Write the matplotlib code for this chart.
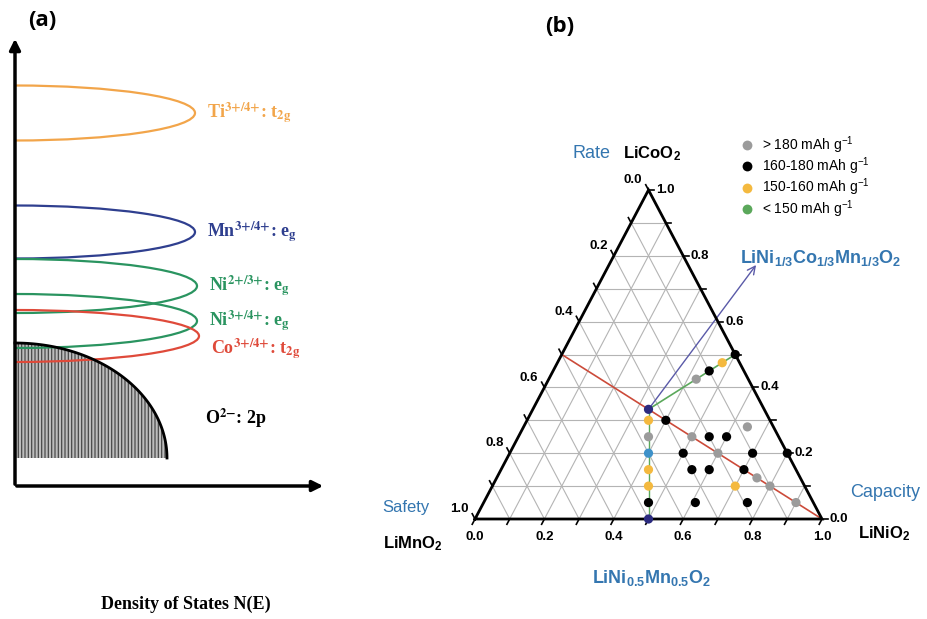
import numpy as np
import matplotlib.pyplot as plt
from matplotlib.patches import Arc, Polygon

plt.rcParams['mathtext.fontset'] = 'custom'
plt.rcParams['mathtext.rm'] = 'Liberation Sans'
plt.rcParams['mathtext.bf'] = 'Liberation Sans:bold'
plt.rcParams['mathtext.it'] = 'Liberation Sans:italic'
plt.rcParams['mathtext.sf'] = 'Liberation Sans'
plt.rcParams['hatch.linewidth'] = 0.9

# ---- panel (a): redox levels vs O 2p band ----
level_ion = ['Ti', 'Mn', 'Ni', 'Ni', 'Co']
level_couple = ['3{+}/4{+}', '3{+}/4{+}', '2{+}/3{+}', '3{+}/4{+}', '3{+}/4{+}']
level_orbital = ['t', 'e', 'e', 'e', 't']
level_sub = ['2g', 'g', 'g', 'g', '2g']
level_energy = [113, 232, 286, 321, 336]      # band centre (drawing units, top = high energy)
level_width = [27.5, 26.5, 27, 27, 26]        # half height of each band
level_dos = [180, 180, 182, 182, 184]         # horizontal reach of each band
label_energy = [113, 232, 286, 321, 349]
level_colors = ['#f2a54a', '#2f3f8f', '#2a9460', '#2a9460', '#df4a3a']

# ---- panel (b): ternary map, (Ni, Co) fractions, Mn = 1 - Ni - Co ----
grades = ['> 180', '160-180', '150-160', '< 150']
grade_colors = {'> 180': '#9b9b9b', '160-180': '#000000', '150-160': '#f4b93f',
                '< 150': '#5ba85b', 'end': '#2b2a7f', 'mid': '#3e91c9'}

pts_ni = [0.5, 0.475, 0.45, 0.425, 0.4, 0.375, 0.35, 1/3,
          0.425, 0.45, 0.475, 0.5,
          0.4, 0.5, 0.6, 0.7, 0.75, 0.8, 0.9,
          0.55, 0.6, 0.645, 0.5, 0.7, 0.8, 0.55, 0.6, 0.7, 0.61, 0.76]
pts_co = [0.0, 0.05, 0.1, 0.15, 0.2, 0.25, 0.3, 1/3,
          0.425, 0.45, 0.475, 0.5,
          0.3, 0.25, 0.2, 0.15, 0.125, 0.1, 0.05,
          0.25, 0.25, 0.28, 0.2, 0.2, 0.2, 0.15, 0.15, 0.1, 0.05, 0.05]
pts_grade = ['end', '160-180', '150-160', '150-160', 'mid', '> 180', '150-160', 'end',
             '> 180', '160-180', '150-160', '160-180',
             '160-180', '> 180', '> 180', '160-180', '> 180', '> 180', '> 180',
             '160-180', '160-180', '> 180', '160-180', '160-180', '160-180',
             '160-180', '160-180', '150-160', '160-180', '160-180']

# Ni = Mn series, Ni = Co series, Co = Mn series
nm_ni, nm_co = [0.5, 1/3], [0.0, 1/3]
nc_ni, nc_co = [1/3, 0.5], [1/3, 0.5]
cm_ni, cm_co = [0.0, 1.0], [0.5, 0.0]


def tern(ni, co):
    ni = np.asarray(ni, dtype=float)
    co = np.asarray(co, dtype=float)
    return ni + co / 2, co


fig = plt.figure(figsize=(9.27, 6.19), dpi=100)

ax_a = fig.add_axes([0, 0, 330 / 927, 1])
ax_a.set_xlim(0, 330)
ax_a.set_ylim(619, 0)
ax_a.axis('off')

x0, y0 = 15, 486
ax_a.annotate('', xy=(x0, 36), xytext=(x0, y0 + 1),
              arrowprops=dict(arrowstyle='-|>', lw=2.5, color='k', mutation_scale=16))
ax_a.annotate('', xy=(326, y0), xytext=(x0 - 1, y0),
              arrowprops=dict(arrowstyle='-|>', lw=2.5, color='k', mutation_scale=16))

# O 2p band, hatched quarter ellipse
t = np.linspace(0, np.pi / 2, 120)
bx = x0 + 152 * np.sin(t)
by = 458 - 115 * np.cos(t)
band = Polygon(np.column_stack([np.r_[bx, x0], np.r_[by, 458]]), closed=True,
               facecolor='#bdbdbd', edgecolor='#4a4a4a', lw=0, hatch='|||||', zorder=1)
ax_a.add_patch(band)
ax_a.plot(bx, by, color='k', lw=2, zorder=3)

serif = dict(family='Liberation Serif', fontweight='bold', fontsize=13,
             math_fontfamily='stix')
for ion, cp, orb, sub, e, w, d, le, c in zip(level_ion, level_couple, level_orbital,
                                             level_sub, level_energy, level_width,
                                             level_dos, label_energy, level_colors):
    ax_a.add_patch(Arc((x0, e), 2 * d, 2 * w, theta1=-90, theta2=90,
                       color=c, lw=1.6, zorder=2))
    label = ion + r'$^{\mathbf{' + cp + r'}}$: ' + orb + r'$_{\mathbf{' + sub + r'}}$'
    ax_a.text(x0 + d + 12, le, label, color=c, va='center', ha='left', **serif)

ax_a.text(205, 418, r'O$^{\mathbf{2{-}}}$: 2p', va='center', **serif)
ax_a.text(186, 604, 'Density of States N(E)', fontsize=13, fontweight='bold',
          family='Liberation Serif', ha='center', va='center')
ax_a.text(42, 20, '(a)', fontsize=16, fontweight='bold', family='Open Sans',
          ha='center', va='center')

# ---- panel (b) ----
base_l, base_y, unit_w, unit_h = 475, 519, 347, 329
xl, yl = (-0.32, 1.32), (-0.30, 1.25)
left = (base_l + xl[0] * unit_w) / 927
bottom = (619 - (base_y - yl[0] * unit_h)) / 619
ax_b = fig.add_axes([left, bottom, (xl[1] - xl[0]) * unit_w / 927,
                     (yl[1] - yl[0]) * unit_h / 619])
ax_b.set_xlim(*xl)
ax_b.set_ylim(*yl)
ax_b.axis('off')

# grid
for v in np.arange(0.1, 1.0, 0.1):
    gx, gy = tern([0, 1 - v], [v, v])            # constant Co
    ax_b.plot(gx, gy, color='#b4b4b4', lw=0.8, zorder=1)
    gx, gy = tern([v, v], [0, 1 - v])            # constant Ni
    ax_b.plot(gx, gy, color='#b4b4b4', lw=0.8, zorder=1)
    gx, gy = tern([0, 1 - v], [1 - v, 0])        # constant Mn
    ax_b.plot(gx, gy, color='#b4b4b4', lw=0.8, zorder=1)

tx, ty = tern([0, 1, 0, 0], [0, 0, 1, 0])
ax_b.plot(tx, ty, color='k', lw=2, zorder=4, solid_joinstyle='miter')

tk = 0.016
tick_font = dict(fontsize=9.5, fontweight='bold', family='Liberation Sans')
for v in np.round(np.arange(0, 1.01, 0.1), 1):
    # bottom edge: Ni
    bx_, by_ = tern(v, 0)
    ax_b.plot([bx_, bx_ - 0.5 * tk], [by_, by_ - tk], color='k', lw=1.2, zorder=4)
    # right edge: Co
    rx, ry = tern(1 - v, v)
    ax_b.plot([rx, rx + tk], [ry, ry], color='k', lw=1.2, zorder=4)
    # left edge: Mn
    lx, ly = tern(0, 1 - v)
    ax_b.plot([lx, lx - 0.5 * tk], [ly, ly + tk], color='k', lw=1.2, zorder=4)
    if round(v * 10) % 2 == 0:
        ax_b.text(bx_, by_ - 0.035, f'{v:.1f}', ha='center', va='top', **tick_font)
        ax_b.text(rx + 0.022, ry, f'{v:.1f}', ha='left', va='center', **tick_font)
        ax_b.text(lx - 0.018, ly + 0.03, f'{v:.1f}', ha='right', va='center',
                  **tick_font)

# composition lines
ax_b.plot(*tern(cm_ni, cm_co), color='#cc4b3a', lw=1.2, zorder=2)
ax_b.plot(*tern(nm_ni, nm_co), color='#5ba85b', lw=1.0, zorder=2)
ax_b.plot(*tern(nc_ni, nc_co), color='#5ba85b', lw=1.2, zorder=2)

px, py = tern(pts_ni, pts_co)
ax_b.scatter(px, py, s=44, c=[grade_colors[g] for g in pts_grade], lw=0, zorder=5)

# NCM111 arrow and labels
ax_b.annotate('', xy=(0.81, 0.772), xytext=tern(1/3, 1/3),
              arrowprops=dict(arrowstyle='->', color='#5a5aa8', lw=1.0,
                              mutation_scale=14, shrinkA=0, shrinkB=0), zorder=3)
blue = '#3476b0'
ax_b.text(0.764, 0.793, r'$\mathbf{LiNi_{1/3}Co_{1/3}Mn_{1/3}O_2}$', color=blue,
          fontsize=13, ha='left', va='center')
ax_b.text(0.51, -0.18, r'$\mathbf{LiNi_{0.5}Mn_{0.5}O_2}$', color=blue,
          fontsize=13, ha='center', va='center')
ax_b.text(0.337, 1.112, 'Rate', color=blue, fontsize=13, family='Liberation Sans',
          ha='center', va='center')
ax_b.text(0.427, 1.112, r'$\mathbf{LiCoO_2}$', fontsize=12, ha='left', va='center')
ax_b.text(-0.199, 0.036, 'Safety', color=blue, fontsize=12, family='Liberation Sans',
          ha='center', va='center')
ax_b.text(-0.265, -0.075, r'$\mathbf{LiMnO_2}$', fontsize=12, ha='left', va='center')
ax_b.text(1.182, 0.082, 'Capacity', color=blue, fontsize=13, family='Liberation Sans',
          ha='center', va='center')
ax_b.text(1.104, -0.045, r'$\mathbf{LiNiO_2}$', fontsize=12, ha='left', va='center')

# capacity legend
for i, g in enumerate(grades):
    ly = 1.137 - i * 0.065
    ax_b.scatter([0.783], [ly], s=50, color=grade_colors[g], lw=0, zorder=5)
    ax_b.text(0.826, ly, g + r' mAh g$^{-1}$', fontsize=10, family='Liberation Sans',
              ha='left', va='center')

fig.text(560 / 927, 1 - 27 / 619, '(b)', fontsize=16, fontweight='bold',
         family='Open Sans', ha='center', va='center')

fig.savefig('out.png', dpi=100, facecolor='white')
